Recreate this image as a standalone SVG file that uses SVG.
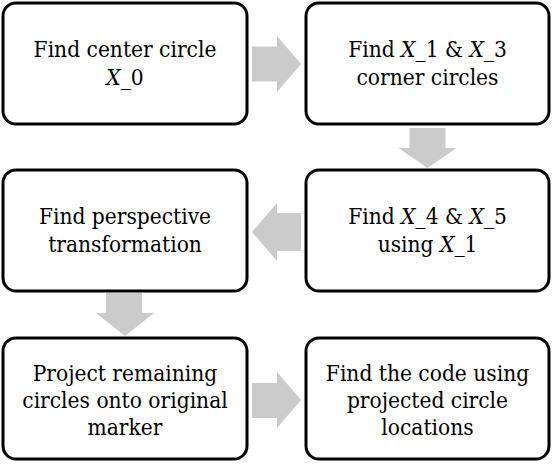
<svg xmlns="http://www.w3.org/2000/svg" width="552" height="464" viewBox="0 0 552 464">
<style>
.box{fill:#fff;stroke:#000;stroke-width:3}
text{font-family:'DejaVu Serif Condensed','DejaVu Serif',serif;font-size:22.5px;fill:#000;text-anchor:middle}
.m{font-style:italic}
.arr{fill:#cbcbcb}
</style>
<rect width="552" height="464" fill="#fff"/>
<g id="connectors">
<polygon class="arr" points="252,46.5 277,46.5 277,36 301,64 277,92 277,81.5 252,81.5"/>
<polygon class="arr" points="409.5,128 445.5,128 445.5,148 456.5,148 427.5,168 398.5,148 409.5,148"/>
<polygon class="arr" points="301,213 277,213 277,203 252,232 277,261 277,251 301,251"/>
<polygon class="arr" points="106,293 142,293 142,313 154,313 125,336 96,313 106,313"/>
<polygon class="arr" points="252,383 277,383 277,372 301,400 277,428 277,418 252,418"/>
</g>
<g id="n1">
<rect class="box" x="3" y="3" width="244" height="121" rx="13"/>
<text x="125" y="57">Find center circle</text>
<text x="125" y="84.5"><tspan class="m">X</tspan>_0</text>
</g>
<g id="n2">
<rect class="box" x="306" y="3" width="243" height="121" rx="13"/>
<text x="427.5" y="57">Find <tspan class="m">X</tspan>_1 &amp; <tspan class="m">X</tspan>_3</text>
<text x="427.5" y="84.5">corner circles</text>
</g>
<g id="n3">
<rect class="box" x="3" y="170" width="244" height="121" rx="13"/>
<text x="125" y="224">Find perspective</text>
<text x="125" y="251.5">transformation</text>
</g>
<g id="n4">
<rect class="box" x="306" y="170" width="243" height="121" rx="13"/>
<text x="427.5" y="224">Find <tspan class="m">X</tspan>_4 &amp; <tspan class="m">X</tspan>_5</text>
<text x="427.5" y="251.5">using <tspan class="m">X</tspan>_1</text>
</g>
<g id="n5">
<rect class="box" x="3" y="338" width="244" height="121" rx="13"/>
<text x="125" y="381">Project remaining</text>
<text x="125" y="408">circles onto original</text>
<text x="125" y="435">marker</text>
</g>
<g id="n6">
<rect class="box" x="306" y="338" width="243" height="121" rx="13"/>
<text x="427.5" y="381">Find the code using</text>
<text x="427.5" y="408">projected circle</text>
<text x="427.5" y="435">locations</text>
</g>
</svg>
